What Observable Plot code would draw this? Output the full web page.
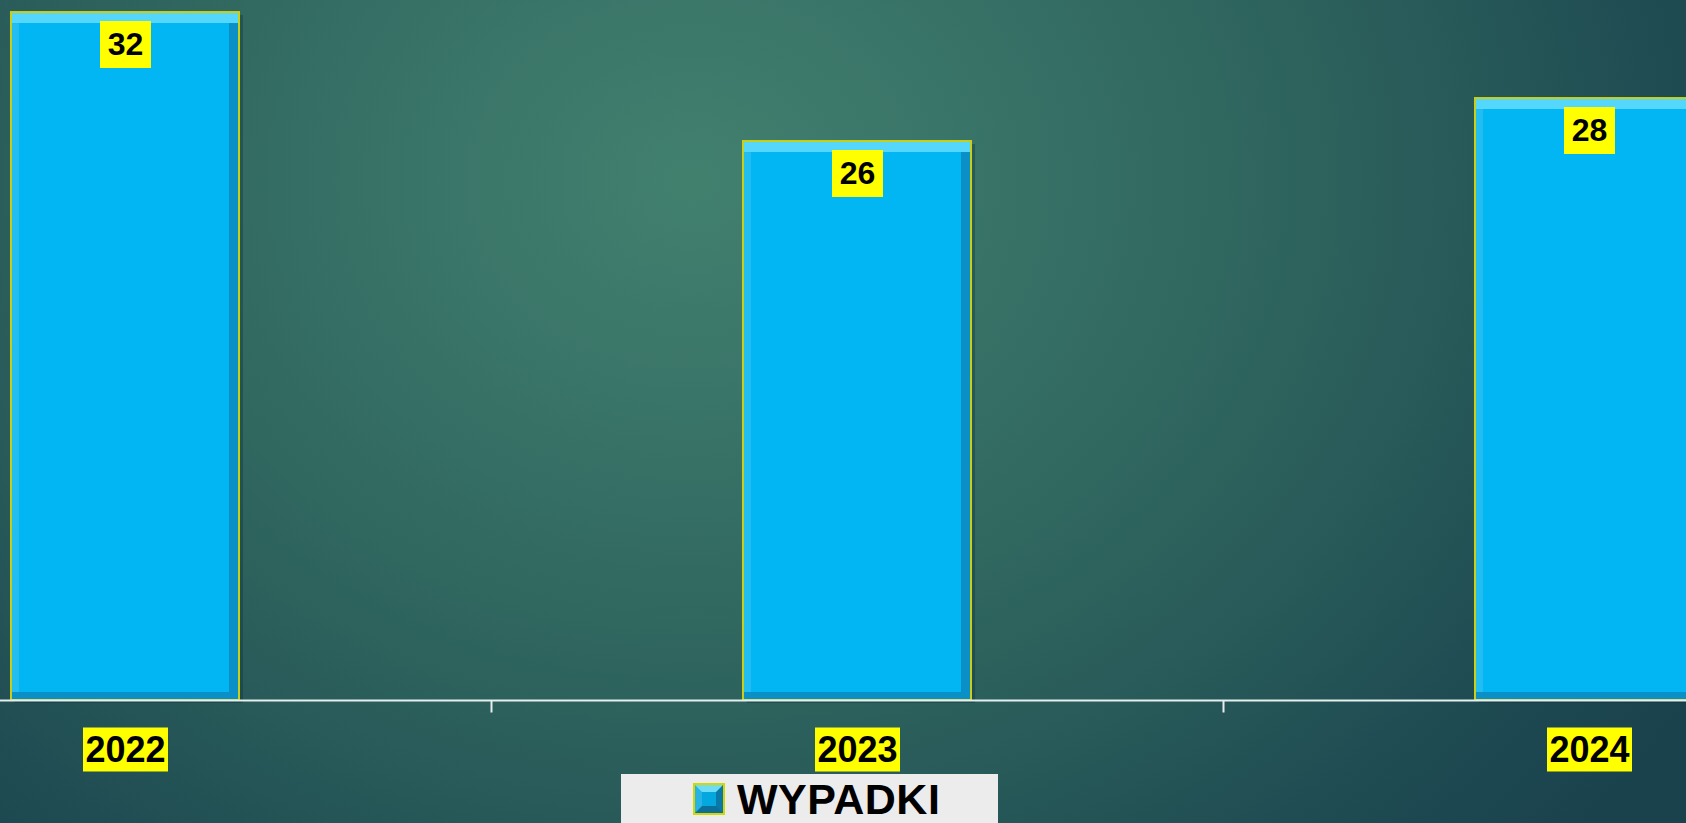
<!DOCTYPE html>
<html>
<head>
<meta charset="utf-8">
<script src="https://cdn.jsdelivr.net/npm/d3@7"></script>
<script src="https://cdn.jsdelivr.net/npm/@observablehq/plot@0.6"></script>
<style>
  html, body { margin: 0; padding: 0; width: 1686px; height: 823px; overflow: hidden; }
  body {
    background: radial-gradient(ellipse 70% 120% at 41% 22%, #42806e 0%, #3a7569 22%, #30675f 45%, #285a59 65%, #1e4a52 85%, #1a424d 100%);
    font-family: "Liberation Sans", Arial, sans-serif;
  }
  #chart { position: absolute; left: 0; top: 0; }
  #legend {
    position: absolute; left: 621px; top: 774px; width: 377px; height: 50px;
    background: #ececec; display: flex; align-items: center;
  }
  #legend .sw {
    margin-left: 74px; width: 14px; height: 14px; box-sizing: content-box;
    background: #05a8de;
    border-style: solid; border-width: 7px;
    border-top-color: #6fdcf6; border-left-color: #27b4e4; border-right-color: #0a79a8; border-bottom-color: #0b6f9a;
    outline: 2px solid #d6d600;
  }
  #legend .lb { margin-left: 14px; font-weight: bold; font-size: 43px; color: #000; letter-spacing: 0.5px; }
</style>
</head>
<body>
<div id="chart"></div>
<div id="legend"><div class="sw"></div><div class="lb">WYPADKI</div></div>
<script>
const years = ["2022", "2023", "2024"];
const accidents = [32, 26, 28];
const seriesName = "WYPADKI";

const data = years.map((y, i) => ({year: y, value: accidents[i]}));
const boundaries = years.slice(0, -1);

const rectSymbol = (w, h) => ({draw(ctx) { ctx.rect(-w / 2, -h / 2, w, h); }});
const tickSymbol = {draw(ctx) { ctx.moveTo(0, 0); ctx.lineTo(0, 12); }};

const W = 1686, H = 774;
const step = 732;

const plot = Plot.plot({
  width: W,
  height: H,
  marginTop: 0,
  marginBottom: 74,
  marginLeft: 0,
  marginRight: 0,
  style: {background: "transparent", overflow: "visible"},
  x: {type: "band", domain: years, range: [-493, 2207], padding: 0.6885, axis: null, round: false},
  y: {domain: [0, 32.56], axis: null},
  marks: [
    // soft shadow
    Plot.barY(data, {x: "year", y: "value", fill: "#0c2f36", fillOpacity: 0.35, dx: 4, dy: 3}),
    // top bevel + outline
    Plot.barY(data, {x: "year", y: "value", fill: "#55d6fb", stroke: "#c9cf1a", strokeWidth: 2}),
    // right/bottom dark bevel
    Plot.barY(data, {x: "year", y: "value", fill: "#0a8fc6", insetTop: 11, insetLeft: 1, insetRight: 1, insetBottom: 1}),
    // left lighter bevel
    Plot.barY(data, {x: "year", y: "value", fill: "#22bdf1", insetTop: 11, insetLeft: 1, insetRight: 10, insetBottom: 8}),
    // main face
    Plot.barY(data, {x: "year", y: "value", fill: "#02b6f4", insetTop: 11, insetLeft: 8, insetRight: 10, insetBottom: 8}),
    // axis baseline
    Plot.ruleY([0], {stroke: "#e6eeee", strokeWidth: 2}),
    // category boundary ticks
    Plot.dot(boundaries, {x: d => d, y: 0, dx: step / 2, symbol: tickSymbol, stroke: "#e6eeee", strokeWidth: 2, fill: "none"}),
    // value labels
    Plot.dot(data, {x: "year", y: "value", dy: 32, symbol: rectSymbol(51, 47), fill: "#ffff00", stroke: "none"}),
    Plot.text(data, {x: "year", y: "value", dy: 32, text: d => String(d.value), fill: "#000", fontSize: 32, fontWeight: "bold", fontFamily: "Liberation Sans, Arial, sans-serif"}),
    // category labels
    Plot.dot(data, {x: "year", y: 0, dy: 49, symbol: rectSymbol(85, 44), fill: "#ffff00", stroke: "none"}),
    Plot.text(data, {x: "year", y: 0, dy: 50, text: "year", fill: "#000", fontSize: 36, fontWeight: "bold", fontFamily: "Liberation Sans, Arial, sans-serif"})
  ]
});
document.getElementById("chart").appendChild(plot);
</script>
</body>
</html>
